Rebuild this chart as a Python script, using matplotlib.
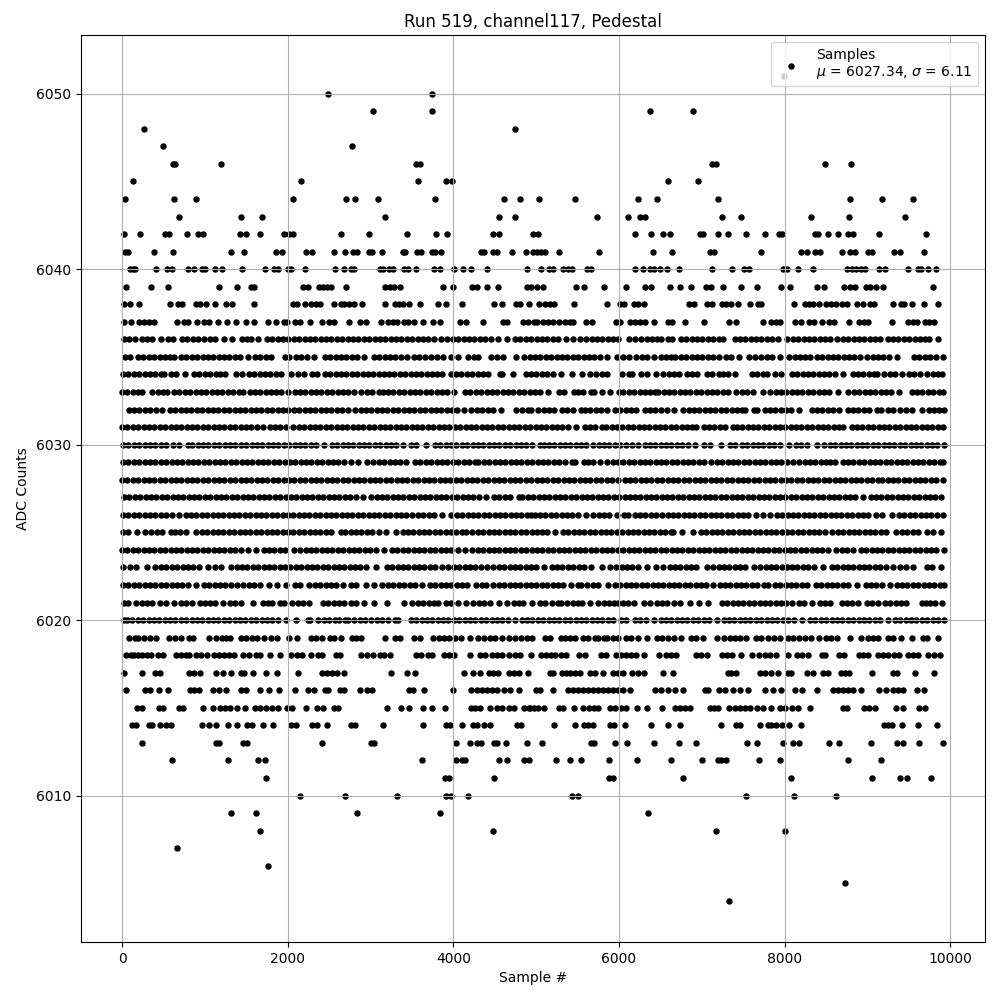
#!/usr/bin/env python3
"""Pedestal scatter: ADC counts against sample number, read off row by row."""

import matplotlib

matplotlib.use("Agg")
import matplotlib.pyplot as plt

# sample numbers seen at each ADC level
s6051 = [7995]
s6050 = [2484, 3739]
s6049 = [3027, 3739, 6374, 6892]
s6048 = [265, 4740]
s6047 = [494, 2774]
s6046 = [611, 635, 1194, 3546, 3594, 7122, 7170, 8484, 8798]
s6045 = [133, 2159, 3570, 3908, 3980, 6591, 6953]
s6044 = [36, 627, 892, 2062, 2701, 2810, 3087, 3775, 4607, 4802, 5035, 5469, 6229, 6458, 7194, 8786, 9172, 9546]
s6043 = [687, 1435, 1688, 3172, 4547, 4740, 5735, 6108, 6253, 6318, 7242, 7471, 8315, 8774, 9449]
s6042 = [24, 217, 515, 563, 784, 917, 977, 1423, 1491, 1664, 1954, 2014, 2062, 2641, 2979, 3437, 3787, 3920, 4474, 4547,
         4963, 5023, 6193, 6386, 6531, 6615, 6977, 7017, 7194, 7315, 7532, 7761, 7930, 7966, 8372, 8400, 8520, 8641, 8762, 8826, 9136, 9702]
s6041 = [32, 72, 386, 615, 1315, 1471, 1857, 1930, 2219, 2291, 2557, 2689, 2786, 2834, 2979, 3019, 3144, 3389, 3421, 3558, 3606,
         3739, 3775, 3847, 4330, 4366, 4474, 4522, 4708, 4876, 4963, 5011, 5063, 5112, 5276, 5759, 6406, 6639, 7093, 7146, 7712,
         8195, 8267, 8364, 8432, 8689, 8786, 8846, 9003, 9051, 9316, 9389, 9678]
s6040 = [96, 133, 161, 410, 539, 603, 796, 868, 961, 1001, 1122, 1206, 1447, 1725, 1829, 1881, 2002, 2042, 2207, 2569, 2677,
         2762, 2798, 3111, 3152, 3220, 3268, 3401, 3449, 3546, 3763, 3835, 4004, 4112, 4209, 4406, 4888, 5059, 5156, 5204, 5325,
         5385, 5433, 5614, 5662, 6193, 6289, 6374, 6422, 6494, 6579, 6724, 7122, 7363, 7507, 7568, 7978, 8026, 8159, 8340, 8750,
         8810, 8858, 8919, 8967, 9136, 9208, 9485, 9606, 9642, 9731, 9823]
s6039 = [52, 350, 555, 1170, 1387, 1556, 1592, 2183, 2243, 2376, 2424, 2473, 2521, 2701, 3172, 3232, 3280, 3353, 3871, 3992,
         4221, 4281, 4402, 4535, 4890, 4939, 5011, 5083, 5481, 5578, 5819, 6084, 6313, 6386, 6615, 6736, 6868, 7049, 7109, 7254,
         7471, 7664, 7954, 8062, 8388, 8472, 8714, 8786, 8846, 8983, 9027, 9099, 9184, 9787]
s6038 = [24, 96, 205, 579, 675, 724, 892, 941, 1013, 1122, 1254, 1327, 1592, 2062, 2111, 2207, 2275, 2336, 2384, 2557, 2641, 2677,
         2738, 2798, 2894, 3172, 3292, 3341, 3389, 3461, 3594, 3811, 3908, 4100, 4486, 4583, 4752, 4800, 4915, 5035, 5108, 5168,
         5216, 5457, 5855, 6012, 6060, 6181, 6229, 6301, 6844, 6904, 7061, 7122, 7242, 7290, 7351, 7435, 7580, 7676, 7712, 8111,
         8243, 8291, 8340, 8412, 8496, 8557, 8617, 8689, 8750, 8870, 8943, 9027, 9075, 9304, 9401, 9437, 9534, 9678, 9847]
s6037 = [24, 108, 205, 265, 326, 386, 663, 748, 796, 904, 989, 1049, 1158, 1266, 1375, 1495, 1592, 1761, 1857, 1954, 1990, 2086,
         2147, 2263, 2412, 2497, 2557, 2738, 2870, 2943, 3124, 3208, 3268, 3317, 3409, 3449, 3522, 3630, 3751, 3835, 4076, 4149,
         4354, 4595, 4643, 4842, 4902, 4971, 5011, 5083, 5144, 5204, 5276, 5345, 5405, 5445, 5606, 5678, 5968, 6016, 6129, 6189,
         6249, 6310, 6418, 6591, 6643, 6800, 7029, 7327, 7415, 7737, 7837, 7897, 7938, 8123, 8195, 8291, 8352, 8452, 8541, 8601,
         8774, 8894, 8955, 9003, 9296, 9485, 9546, 9594, 9694, 9747, 9799]
s6036 = [24, 89, 154, 241, 295, 360, 474, 554, 615, 723, 788, 853, 918, 983, 1060, 1125, 1230, 1330, 1447, 1510, 1560, 1642,
         1748, 1813, 1878, 1943, 2008, 2073, 2138, 2203, 2268, 2333, 2398, 2463, 2528, 2593, 2658, 2723, 2788, 2853, 2918, 2983,
         3048, 3113, 3178, 3243, 3308, 3373, 3438, 3503, 3568, 3633, 3698, 3763, 3856, 3928, 3993, 4058, 4123, 4188, 4253, 4318,
         4383, 4451, 4543, 4644, 4744, 4809, 4874, 4939, 5004, 5069, 5134, 5199, 5264, 5356, 5446, 5526, 5605, 5670, 5735, 5800,
         5865, 5930, 5991, 6119, 6188, 6268, 6333, 6398, 6463, 6509, 6593, 6634, 6747, 6812, 6877, 6942, 7007, 7072, 7137, 7202,
         7254, 7395, 7460, 7525, 7590, 7655, 7720, 7785, 7850, 7918, 8034, 8099, 8164, 8229, 8294, 8359, 8424, 8489, 8549, 8637,
         8702, 8767, 8832, 8897, 8962, 9027, 9092, 9152, 9244, 9309, 9374, 9439, 9504, 9569, 9634, 9699, 9743, 9857]
s6035 = [32, 100, 193, 258, 323, 388, 453, 518, 583, 623, 711, 776, 841, 906, 971, 1036, 1101, 1166, 1231, 1296, 1361, 1426,
         1519, 1604, 1669, 1734, 1801, 1969, 2014, 2098, 2163, 2228, 2315, 2448, 2513, 2578, 2643, 2708, 2773, 2838, 2918, 3039,
         3104, 3169, 3234, 3299, 3366, 3444, 3526, 3591, 3656, 3728, 3808, 3873, 3969, 4059, 4182, 4247, 4302, 4450, 4523, 4602,
         4759, 4857, 4922, 4987, 5052, 5117, 5182, 5247, 5312, 5377, 5442, 5507, 5572, 5637, 5702, 5767, 5858, 5978, 6043, 6119,
         6208, 6273, 6338, 6421, 6507, 6572, 6630, 6681, 6747, 6812, 6877, 6942, 7007, 7072, 7137, 7210, 7290, 7355, 7447, 7572,
         7644, 7714, 7785, 7850, 7938, 8054, 8119, 8184, 8249, 8307, 8388, 8453, 8518, 8583, 8648, 8713, 8778, 8843, 8908, 8991,
         9063, 9128, 9193, 9258, 9353, 9562, 9627, 9692, 9757, 9822, 9908]
s6034 = [12, 77, 142, 207, 272, 337, 402, 467, 506, 586, 655, 757, 868, 926, 1001, 1066, 1131, 1188, 1244, 1374, 1447, 1531,
         1596, 1661, 1726, 1791, 1856, 1921, 2034, 2120, 2193, 2291, 2353, 2448, 2513, 2578, 2643, 2708, 2773, 2838, 2903, 2968,
         3033, 3098, 3163, 3228, 3280, 3353, 3418, 3483, 3548, 3613, 3678, 3743, 3808, 3868, 3968, 4033, 4098, 4163, 4228, 4293,
         4358, 4419, 4560, 4590, 4718, 4873, 4938, 5003, 5068, 5133, 5198, 5295, 5436, 5555, 5645, 5720, 5790, 5860, 6031, 6121,
         6158, 6260, 6341, 6443, 6533, 6600, 6660, 6720, 6820, 6880, 6943, 7061, 7121, 7212, 7255, 7322, 7403, 7604, 7669, 7734,
         7785, 7887, 7960, 8086, 8151, 8216, 8281, 8346, 8411, 8476, 8541, 8606, 8702, 8822, 8887, 8952, 9017, 9082, 9120, 9204,
         9269, 9334, 9413, 9501, 9565, 9634, 9722, 9787, 9852, 9900]
s6033 = [0, 64, 132, 197, 241, 365, 430, 495, 543, 627, 692, 757, 822, 887, 952, 1017, 1082, 1147, 1212, 1277, 1342, 1407, 1459,
         1539, 1604, 1669, 1734, 1799, 1864, 1921, 2000, 2082, 2147, 2212, 2277, 2342, 2407, 2472, 2537, 2602, 2667, 2732, 2797,
         2886, 2954, 3019, 3097, 3147, 3212, 3277, 3342, 3407, 3472, 3537, 3602, 3667, 3732, 3797, 3862, 3927, 4009, 4141, 4206,
         4271, 4336, 4401, 4466, 4531, 4596, 4661, 4726, 4791, 4856, 4921, 4986, 5051, 5147, 5275, 5340, 5454, 5500, 5565, 5659,
         5701, 5800, 5890, 5999, 6049, 6122, 6184, 6249, 6314, 6379, 6431, 6473, 6538, 6603, 6668, 6733, 6798, 6863, 6928, 6993,
         7058, 7123, 7188, 7253, 7318, 7411, 7483, 7548, 7616, 7743, 7825, 7890, 7955, 8020, 8085, 8150, 8215, 8280, 8345, 8410,
         8475, 8540, 8641, 8770, 8835, 8900, 8965, 9030, 9095, 9160, 9225, 9290, 9385, 9533, 9598, 9663, 9728, 9793, 9858, 9908]
s6032 = [80, 145, 210, 275, 340, 405, 482, 580, 643, 708, 773, 838, 903, 968, 1033, 1098, 1163, 1228, 1293, 1358, 1423, 1488,
         1553, 1618, 1683, 1748, 1813, 1878, 1943, 2008, 2073, 2138, 2203, 2268, 2333, 2398, 2463, 2528, 2593, 2658, 2725, 2814,
         2879, 2944, 3009, 3074, 3139, 3204, 3269, 3334, 3399, 3464, 3529, 3594, 3659, 3724, 3789, 3854, 3919, 3984, 4049, 4130,
         4218, 4283, 4348, 4413, 4478, 4580, 4760, 4825, 4900, 4942, 5026, 5091, 5156, 5221, 5317, 5376, 5441, 5539, 5589, 5654,
         5719, 5784, 5849, 5948, 6015, 6080, 6145, 6210, 6310, 6372, 6437, 6502, 6574, 6659, 6768, 6840, 6905, 6970, 7035, 7100,
         7165, 7230, 7295, 7360, 7425, 7485, 7518, 7624, 7664, 7757, 7822, 7887, 7952, 8017, 8082, 8179, 8327, 8392, 8457, 8522,
         8587, 8652, 8760, 8820, 8890, 8955, 9020, 9110, 9160, 9250, 9304, 9393, 9469, 9534, 9654, 9738, 9803, 9868, 9923]
s6031 = [0, 65, 130, 195, 260, 325, 390, 455, 520, 585, 650, 715, 780, 845, 910, 975, 1040, 1105, 1170, 1235, 1300, 1365, 1430,
         1495, 1560, 1625, 1700, 1780, 1845, 1910, 1975, 2062, 2134, 2199, 2264, 2329, 2394, 2459, 2524, 2589, 2654, 2719, 2784,
         2849, 2914, 2979, 3044, 3109, 3174, 3239, 3304, 3369, 3434, 3499, 3555, 3627, 3692, 3757, 3822, 3887, 3952, 4017, 4082,
         4147, 4212, 4277, 4342, 4407, 4472, 4537, 4602, 4667, 4732, 4797, 4862, 4927, 4992, 5057, 5122, 5187, 5252, 5317, 5382,
         5476, 5585, 5650, 5715, 5792, 5846, 5911, 5976, 6041, 6106, 6171, 6236, 6301, 6366, 6431, 6496, 6561, 6626, 6691, 6756,
         6821, 6886, 6933, 7021, 7086, 7151, 7216, 7281, 7373, 7423, 7488, 7553, 7618, 7683, 7748, 7813, 7878, 7943, 8008, 8073,
         8138, 8203, 8268, 8333, 8398, 8463, 8528, 8593, 8659, 8699, 8810, 8875, 8940, 9005, 9070, 9135, 9200, 9265, 9330, 9395,
         9460, 9525, 9590, 9655, 9720, 9785, 9850, 9908]
s6030 = [12, 77, 142, 207, 272, 337, 402, 467, 532, 615, 687, 794, 848, 913, 978, 1043, 1108, 1173, 1238, 1303, 1368, 1433,
         1498, 1563, 1628, 1693, 1758, 1823, 1888, 1953, 2018, 2083, 2148, 2213, 2278, 2343, 2442, 2532, 2597, 2662, 2727, 2792,
         2857, 2922, 2987, 3052, 3117, 3182, 3247, 3312, 3390, 3486, 3551, 3671, 3776, 3841, 3906, 3971, 4036, 4101, 4166, 4231,
         4296, 4361, 4426, 4491, 4556, 4621, 4686, 4751, 4816, 4881, 4946, 5044, 5096, 5154, 5219, 5284, 5349, 5414, 5479, 5544,
         5605, 5689, 5754, 5819, 5884, 5949, 6014, 6079, 6152, 6230, 6308, 6373, 6438, 6503, 6568, 6633, 6698, 6763, 6828, 6921,
         7030, 7095, 7230, 7342, 7403, 7483, 7548, 7613, 7678, 7743, 7808, 7873, 7938, 8056, 8134, 8199, 8264, 8388, 8480, 8545,
         8610, 8675, 8740, 8805, 8870, 8935, 9000, 9065, 9130, 9195, 9260, 9325, 9390, 9455, 9520, 9585, 9650, 9715, 9780, 9845, 9923]
s6029 = [12, 77, 142, 207, 272, 337, 402, 467, 532, 597, 662, 727, 792, 857, 922, 987, 1052, 1117, 1182, 1247, 1312, 1377, 1442,
         1507, 1572, 1637, 1702, 1767, 1832, 1897, 1962, 2027, 2092, 2157, 2222, 2287, 2352, 2417, 2482, 2547, 2612, 2677, 2766,
         2854, 2957, 3035, 3100, 3165, 3230, 3295, 3360, 3434, 3538, 3603, 3668, 3733, 3798, 3863, 3928, 3993, 4058, 4123, 4188,
         4260, 4302, 4367, 4432, 4497, 4562, 4627, 4692, 4757, 4822, 4887, 4952, 5017, 5082, 5147, 5212, 5277, 5342, 5436, 5466,
         5577, 5627, 5692, 5766, 5858, 5923, 5988, 6053, 6118, 6183, 6248, 6313, 6378, 6443, 6508, 6573, 6638, 6703, 6768, 6833,
         6898, 6963, 7028, 7110, 7182, 7247, 7312, 7377, 7442, 7507, 7572, 7637, 7702, 7767, 7832, 7897, 7962, 8027, 8099, 8175,
         8240, 8305, 8370, 8435, 8500, 8550, 8607, 8701, 8766, 8831, 8896, 8961, 9026, 9091, 9156, 9221, 9286, 9351, 9416, 9481,
         9546, 9611, 9676, 9741, 9806, 9871, 9908]
s6028 = [0, 65, 130, 195, 260, 325, 390, 455, 520, 585, 650, 715, 780, 845, 910, 975, 1040, 1105, 1170, 1235, 1300, 1365, 1430,
         1495, 1560, 1625, 1690, 1755, 1820, 1885, 1950, 2015, 2080, 2145, 2210, 2275, 2340, 2405, 2470, 2535, 2600, 2665, 2730,
         2795, 2860, 2925, 2990, 3055, 3120, 3185, 3250, 3315, 3380, 3445, 3510, 3575, 3640, 3705, 3770, 3835, 3900, 3965, 4030,
         4095, 4160, 4225, 4290, 4355, 4420, 4485, 4550, 4615, 4680, 4745, 4810, 4875, 4940, 5005, 5070, 5135, 5200, 5265, 5330,
         5395, 5460, 5525, 5590, 5655, 5720, 5785, 5850, 5915, 5987, 6067, 6132, 6197, 6262, 6327, 6392, 6457, 6522, 6587, 6652,
         6717, 6782, 6847, 6912, 6977, 7042, 7107, 7172, 7237, 7302, 7367, 7432, 7497, 7562, 7627, 7692, 7757, 7822, 7887, 7952,
         8017, 8082, 8147, 8212, 8277, 8342, 8407, 8472, 8537, 8602, 8667, 8732, 8797, 8862, 8927, 8992, 9057, 9122, 9172, 9244,
         9309, 9374, 9439, 9504, 9569, 9634, 9699, 9764, 9829, 9908]
s6027 = [24, 89, 154, 219, 284, 349, 414, 479, 544, 609, 674, 739, 804, 869, 934, 999, 1064, 1129, 1194, 1259, 1324, 1389, 1454,
         1519, 1584, 1649, 1714, 1779, 1844, 1909, 1974, 2039, 2104, 2169, 2234, 2299, 2364, 2429, 2494, 2559, 2624, 2689, 2754,
         2819, 2906, 3007, 3072, 3137, 3202, 3267, 3332, 3397, 3462, 3527, 3592, 3657, 3722, 3787, 3852, 3917, 3982, 4047, 4112,
         4177, 4242, 4307, 4391, 4491, 4556, 4621, 4686, 4791, 4833, 4898, 4963, 5028, 5093, 5158, 5223, 5288, 5353, 5418, 5483,
         5548, 5613, 5678, 5743, 5808, 5873, 5938, 6003, 6068, 6133, 6198, 6250, 6320, 6385, 6450, 6515, 6580, 6645, 6710, 6775,
         6840, 6905, 6970, 7035, 7100, 7165, 7230, 7295, 7360, 7425, 7490, 7555, 7620, 7685, 7750, 7815, 7880, 7945, 8010, 8075,
         8140, 8205, 8270, 8335, 8400, 8465, 8530, 8595, 8660, 8725, 8790, 8855, 8951, 9039, 9104, 9169, 9234, 9299, 9364, 9429,
         9494, 9559, 9624, 9689, 9754, 9819, 9885]
s6026 = [12, 77, 142, 207, 272, 337, 402, 467, 532, 597, 687, 767, 832, 897, 962, 1027, 1092, 1157, 1222, 1287, 1352, 1417, 1482,
         1547, 1612, 1677, 1742, 1807, 1872, 1937, 2002, 2067, 2132, 2197, 2262, 2327, 2392, 2457, 2522, 2587, 2652, 2717, 2782,
         2847, 2912, 2977, 3042, 3107, 3172, 3237, 3302, 3367, 3432, 3497, 3567, 3639, 3704, 3769, 3860, 3977, 4042, 4107, 4172,
         4237, 4302, 4367, 4432, 4497, 4562, 4627, 4692, 4757, 4822, 4887, 4943, 4982, 5047, 5112, 5177, 5242, 5307, 5372, 5437,
         5502, 5597, 5689, 5754, 5819, 5884, 5971, 6055, 6107, 6188, 6253, 6318, 6383, 6441, 6521, 6586, 6651, 6716, 6781, 6846,
         6911, 6976, 7041, 7106, 7171, 7236, 7301, 7366, 7431, 7496, 7561, 7656, 7735, 7823, 7905, 7970, 8035, 8100, 8165, 8230,
         8295, 8360, 8425, 8490, 8555, 8620, 8685, 8750, 8815, 8880, 8945, 9010, 9103, 9180, 9292, 9381, 9446, 9511, 9576, 9641,
         9706, 9771, 9836, 9908]
s6025 = [12, 72, 180, 273, 353, 418, 483, 593, 639, 705, 767, 888, 964, 1029, 1094, 1159, 1224, 1289, 1354, 1419, 1484, 1549,
         1614, 1679, 1744, 1809, 1874, 1939, 2004, 2069, 2134, 2199, 2264, 2329, 2394, 2459, 2524, 2643, 2693, 2758, 2823, 2888,
         2953, 3018, 3107, 3183, 3305, 3386, 3451, 3516, 3581, 3646, 3711, 3776, 3841, 3906, 3971, 4036, 4101, 4158, 4230, 4295,
         4360, 4425, 4490, 4555, 4620, 4685, 4750, 4815, 4880, 4945, 5010, 5075, 5135, 5225, 5323, 5388, 5453, 5518, 5583, 5648,
         5713, 5778, 5843, 5908, 5973, 6038, 6103, 6168, 6233, 6298, 6363, 6428, 6493, 6558, 6623, 6654, 6760, 6893, 6989, 7054,
         7119, 7184, 7249, 7314, 7379, 7444, 7509, 7574, 7639, 7704, 7769, 7834, 7899, 7964, 8029, 8094, 8159, 8224, 8289, 8354,
         8419, 8484, 8569, 8641, 8706, 8771, 8836, 8901, 8966, 9031, 9096, 9161, 9226, 9345, 9417, 9482, 9547, 9612, 9715, 9787, 9884]
s6024 = [0, 65, 130, 195, 260, 325, 390, 455, 520, 585, 650, 715, 780, 845, 910, 975, 1040, 1105, 1170, 1235, 1300, 1365, 1430,
         1519, 1618, 1708, 1773, 1838, 1903, 1968, 2074, 2150, 2215, 2280, 2345, 2410, 2475, 2540, 2605, 2670, 2735, 2800, 2865,
         2930, 2995, 3060, 3160, 3260, 3325, 3390, 3455, 3520, 3585, 3650, 3715, 3780, 3845, 3910, 3975, 4057, 4144, 4230, 4295,
         4360, 4425, 4490, 4555, 4620, 4685, 4750, 4815, 4880, 4945, 5010, 5075, 5140, 5205, 5270, 5335, 5400, 5465, 5530, 5595,
         5660, 5725, 5790, 5855, 5920, 5985, 6050, 6115, 6180, 6245, 6310, 6375, 6440, 6505, 6570, 6635, 6700, 6765, 6830, 6895,
         6960, 7025, 7090, 7155, 7220, 7285, 7350, 7415, 7480, 7545, 7610, 7675, 7740, 7805, 7870, 7935, 8000, 8065, 8130, 8195,
         8260, 8325, 8390, 8455, 8520, 8621, 8693, 8758, 8823, 8923, 8981, 9051, 9116, 9181, 9246, 9311, 9376, 9441, 9506, 9571,
         9636, 9701, 9766, 9831, 9923]
s6023 = [10, 90, 163, 305, 394, 470, 535, 600, 665, 730, 795, 860, 925, 1037, 1117, 1190, 1318, 1383, 1448, 1513, 1578, 1643,
         1708, 1773, 1838, 1903, 1968, 2033, 2098, 2163, 2228, 2293, 2358, 2423, 2488, 2553, 2618, 2683, 2748, 2813, 2878, 2943,
         3071, 3196, 3261, 3326, 3391, 3456, 3521, 3586, 3651, 3716, 3781, 3868, 3940, 4005, 4070, 4135, 4200, 4265, 4330, 4411,
         4483, 4548, 4613, 4678, 4743, 4808, 4873, 4938, 5003, 5094, 5187, 5252, 5317, 5382, 5447, 5512, 5577, 5665, 5790, 5890,
         5966, 6031, 6096, 6161, 6226, 6333, 6449, 6534, 6610, 6675, 6740, 6805, 6870, 6935, 7061, 7140, 7202, 7267, 7332, 7397,
         7462, 7527, 7624, 7704, 7769, 7834, 7899, 7964, 8029, 8094, 8147, 8223, 8288, 8353, 8469, 8569, 8634, 8699, 8764, 8829,
         8894, 8959, 9024, 9089, 9154, 9219, 9313, 9397, 9462, 9546, 9714, 9779, 9883]
s6022 = [12, 77, 142, 207, 272, 337, 402, 467, 532, 597, 662, 727, 792, 896, 988, 1053, 1118, 1183, 1248, 1313, 1391, 1461,
         1531, 1596, 1661, 1772, 1869, 1982, 2082, 2147, 2255, 2327, 2392, 2457, 2522, 2587, 2665, 2765, 2830, 2947, 3039, 3137,
         3212, 3277, 3342, 3407, 3472, 3537, 3627, 3715, 3780, 3845, 3910, 3975, 4040, 4105, 4170, 4270, 4340, 4399, 4483, 4548,
         4613, 4678, 4743, 4808, 4873, 4938, 5003, 5068, 5133, 5198, 5263, 5328, 5424, 5504, 5537, 5617, 5682, 5747, 5866, 5950,
         6015, 6080, 6145, 6210, 6275, 6340, 6405, 6470, 6535, 6600, 6665, 6730, 6795, 6860, 6925, 6990, 7055, 7134, 7214, 7279,
         7344, 7409, 7474, 7539, 7604, 7664, 7753, 7805, 7881, 7946, 8011, 8076, 8141, 8206, 8275, 8376, 8441, 8506, 8571, 8636,
         8701, 8766, 8878, 8979, 9044, 9109, 9174, 9272, 9352, 9417, 9482, 9547, 9612, 9677, 9742, 9807, 9872, 9923]
s6021 = [24, 72, 172, 237, 302, 362, 462, 527, 623, 711, 776, 841, 937, 999, 1067, 1127, 1216, 1298, 1363, 1431, 1582, 1700,
         1765, 1809, 1901, 1959, 2048, 2122, 2187, 2255, 2424, 2489, 2554, 2619, 2677, 2765, 2826, 2918, 3039, 3198, 3404, 3506,
         3571, 3636, 3701, 3766, 3816, 3908, 3969, 4061, 4158, 4242, 4307, 4372, 4443, 4550, 4642, 4732, 4797, 4845, 4948, 5042,
         5102, 5195, 5260, 5303, 5376, 5441, 5506, 5557, 5647, 5749, 5814, 5879, 5944, 5987, 6049, 6109, 6180, 6298, 6375, 6461,
         6525, 6581, 6663, 6732, 6858, 6967, 7071, 7242, 7307, 7372, 7437, 7502, 7567, 7632, 7697, 7762, 7827, 7892, 7957, 8022,
         8087, 8169, 8233, 8330, 8424, 8490, 8549, 8689, 8754, 8819, 8882, 8991, 9056, 9131, 9212, 9277, 9342, 9405, 9471, 9654,
         9712, 9754, 9815, 9897]
s6020 = [20, 60, 124, 189, 254, 319, 384, 449, 514, 579, 644, 709, 774, 839, 904, 969, 1034, 1099, 1164, 1229, 1294, 1359, 1424,
         1489, 1554, 1619, 1684, 1749, 1814, 1879, 1982, 2104, 2243, 2273, 2362, 2436, 2501, 2566, 2625, 2697, 2725, 2806, 2871,
         2936, 3007, 3079, 3144, 3209, 3295, 3335, 3486, 3551, 3616, 3681, 3746, 3811, 3876, 3941, 4006, 4071, 4136, 4201, 4266,
         4331, 4396, 4461, 4526, 4591, 4656, 4745, 4825, 4890, 4955, 5020, 5085, 5150, 5215, 5280, 5345, 5410, 5475, 5540, 5605,
         5670, 5735, 5800, 5865, 5930, 6019, 6089, 6192, 6257, 6322, 6421, 6501, 6566, 6631, 6696, 6761, 6826, 6891, 6956, 7021,
         7086, 7182, 7262, 7327, 7392, 7457, 7522, 7587, 7652, 7717, 7782, 7847, 7912, 7977, 8042, 8107, 8207, 8307, 8372, 8437,
         8502, 8567, 8632, 8697, 8762, 8827, 8892, 8957, 9022, 9087, 9152, 9252, 9332, 9397, 9462, 9527, 9592, 9657, 9722, 9787,
         9852, 9923]
s6019 = [84, 161, 197, 265, 338, 406, 563, 635, 708, 808, 856, 1049, 1134, 1202, 1254, 1302, 1431, 1495, 1572, 1632, 1713, 1793,
         1873, 2018, 2111, 2283, 2336, 2412, 2509, 2557, 2645, 2782, 2830, 2890, 3176, 3292, 3353, 3522, 3594, 3751, 3823, 3883,
         3944, 4024, 4088, 4197, 4293, 4366, 4438, 4507, 4587, 4667, 4748, 4816, 4888, 4947, 5104, 5164, 5305, 5353, 5405, 5465,
         5566, 5626, 5707, 5747, 5815, 5855, 5928, 5988, 6088, 6149, 6229, 6338, 6458, 6523, 6591, 6659, 6752, 6872, 6933, 7013,
         7182, 7262, 7335, 7395, 7455, 7536, 7656, 7716, 7797, 7877, 7938, 8038, 8098, 8171, 8251, 8320, 8412, 8500, 8561, 8629,
         8790, 8923, 9003, 9063, 9124, 9244, 9304, 9405, 9534, 9674, 9723, 9851]
s6018 = [44, 105, 145, 197, 245, 297, 354, 434, 498, 647, 708, 768, 808, 888, 949, 1029, 1110, 1170, 1230, 1290, 1351, 1463, 1532,
         1612, 1664, 1781, 1910, 2034, 2115, 2167, 2279, 2364, 2412, 2577, 2637, 2886, 2959, 3027, 3112, 3168, 3232, 3554, 3610,
         3690, 3743, 3883, 3944, 4004, 4197, 4317, 4386, 4466, 4527, 4587, 4667, 4740, 4800, 4943, 5063, 5124, 5184, 5232, 5305,
         5365, 5518, 5594, 5787, 5847, 5968, 6028, 6088, 6149, 6209, 6297, 6486, 6571, 6631, 6691, 6933, 6993, 7061, 7242, 7302,
         7359, 7471, 7604, 7688, 7757, 7825, 7897, 8038, 8147, 8211, 8279, 8452, 8492, 8661, 8722, 8894, 8943, 9003, 9128, 9184,
         9244, 9324, 9385, 9485, 9546, 9606, 9726, 9799, 9875]
s6017 = [24, 241, 398, 458, 808, 868, 941, 1134, 1218, 1315, 1431, 1471, 1576, 1741, 1869, 2123, 2416, 2477, 2537, 2597, 2677,
         3244, 3441, 3534, 4125, 4233, 4326, 4426, 4478, 4535, 4676, 4728, 4788, 4902, 5164, 5204, 5317, 5365, 5405, 5465, 5526,
         5654, 5707, 5807, 5928, 5988, 6048, 6157, 6229, 6301, 6531, 6651, 7315, 7355, 7411, 7704, 7757, 7837, 7918, 8038, 8078,
         8267, 8340, 8460, 8520, 8681, 8734, 8782, 9051, 9304, 9353, 9574, 9799]
s6016 = [52, 277, 338, 450, 559, 820, 868, 929, 1097, 1170, 1254, 1431, 1495, 1664, 1773, 1893, 2086, 2243, 2316, 2444, 2484, 2629,
         2685, 2870, 2959, 3019, 3469, 3513, 3646, 3992, 4209, 4285, 4346, 4406, 4466, 4527, 4615, 4680, 4788, 5003, 5051, 5204,
         5385, 5445, 5506, 5566, 5626, 5686, 5747, 5807, 5867, 5928, 5988, 6048, 6129, 6430, 6506, 6591, 6671, 6772, 7033, 7073,
         7202, 7274, 7375, 7455, 7556, 7757, 7857, 7958, 8123, 8211, 8392, 8581, 8641, 8701, 8762, 8822, 8919, 9144, 9224, 9312,
         9365, 9425, 9594, 9686]
s6015 = [185, 245, 446, 498, 687, 736, 977, 1097, 1182, 1238, 1302, 1387, 1483, 1604, 1664, 1733, 1813, 1881, 1994, 2054, 2223,
         2352, 2424, 2557, 2605, 3196, 3365, 3461, 3630, 3743, 3895, 4213, 4265, 4317, 4438, 4527, 4587, 4667, 4732, 4856, 4908,
         4923, 4971, 5023, 5091, 5276, 5325, 5457, 5566, 5634, 5694, 5747, 5895, 5956, 6028, 6088, 6217, 6338, 6519, 6671, 6732,
         6792, 6852, 7093, 7142, 7198, 7327, 7395, 7455, 7516, 7576, 7664, 7737, 7833, 7938, 8006, 8090, 8163, 8303, 8710, 8750,
         8963, 9023, 9087, 9345, 9425, 9626, 9698]
s6014 = [125, 165, 326, 366, 458, 527, 595, 965, 1049, 1134, 1278, 1383, 1512, 1572, 1700, 1821, 2034, 2094, 2295, 2348, 2472,
         2766, 2818, 3148, 3630, 3907, 3964, 4100, 4237, 4285, 4366, 4446, 4768, 4814, 5216, 5469, 5574, 5626, 5686, 5888, 5944,
         6072, 6386, 6591, 6736, 7230, 7415, 7463, 7700, 7797, 7837, 7897, 7966, 8050, 8195, 9204, 9244, 9296, 9413, 9606, 9835]
s6013 = [241, 1130, 1174, 1463, 1503, 2412, 3007, 3047, 4028, 4197, 4285, 4333, 4486, 4527, 4631, 4884, 5071, 5658, 5694, 5948,
         6096, 6422, 6724, 6929, 7544, 7664, 7978, 8098, 8171, 8533, 8653, 9039, 9353, 9425, 9618, 9907]
s6012 = [603, 1278, 1640, 1725, 3618, 4028, 4104, 4145, 4547, 4643, 4856, 4908, 5244, 5405, 5542, 5879, 6217, 6627, 7001, 7194,
         7234, 7294, 7688, 7942, 8762, 9160]
s6011 = [1737, 3903, 3952, 4486, 5879, 5928, 6772, 8074, 9051, 9389, 9473, 9763]
s6010 = [2147, 2689, 3317, 3915, 3968, 4173, 5433, 5506, 7532, 8110, 8617]
s6009 = [1315, 1616, 2834, 3835, 6350]
s6008 = [1664, 4474, 7170, 8002]
s6007 = [663]
s6006 = [1761]
s6005 = [8726]
s6004 = [7327]

ROWS = [
    (6051, s6051), (6050, s6050), (6049, s6049), (6048, s6048), (6047, s6047), (6046, s6046), (6045, s6045), (6044, s6044),
    (6043, s6043), (6042, s6042), (6041, s6041), (6040, s6040), (6039, s6039), (6038, s6038), (6037, s6037), (6036, s6036),
    (6035, s6035), (6034, s6034), (6033, s6033), (6032, s6032), (6031, s6031), (6030, s6030), (6029, s6029), (6028, s6028),
    (6027, s6027), (6026, s6026), (6025, s6025), (6024, s6024), (6023, s6023), (6022, s6022), (6021, s6021), (6020, s6020),
    (6019, s6019), (6018, s6018), (6017, s6017), (6016, s6016), (6015, s6015), (6014, s6014), (6013, s6013), (6012, s6012),
    (6011, s6011), (6010, s6010), (6009, s6009), (6008, s6008), (6007, s6007), (6006, s6006), (6005, s6005), (6004, s6004),
]

samples = []
counts = []
for level, xs in ROWS:
    samples.extend(xs)
    counts.extend([level] * len(xs))

fig, ax = plt.subplots(figsize=(10, 10))
ax.scatter(samples, counts, s=13, color="black", label="Samples\n$\\mu$ = 6027.34, $\\sigma$ = 6.11")
ax.set_title("Run 519, channel117, Pedestal")
ax.set_xlabel("Sample #")
ax.set_ylabel("ADC Counts")
ax.grid(True)
ax.legend(loc="upper right")
fig.subplots_adjust(left=0.081, right=0.985, top=0.965, bottom=0.058)
fig.savefig("out.png", dpi=100)
plt.close(fig)
